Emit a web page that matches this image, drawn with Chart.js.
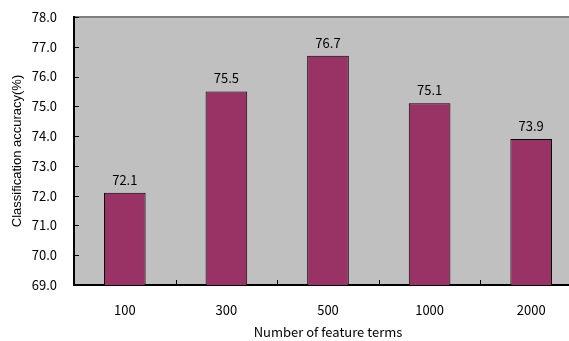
<!DOCTYPE html>
<html>
<head>
<meta charset="utf-8">
<script src="https://cdn.jsdelivr.net/npm/chart.js@4"></script>
<style>
  html, body { margin: 0; padding: 0; background: #fff; overflow: hidden; }
  #wrap { width: 582px; height: 341px; }
</style>
</head>
<body>
<div id="wrap"><canvas id="chart" width="582" height="341"></canvas></div>
<script>
// Feature-term counts and the accuracy each one reached
const categories = ['100', '300', '500', '1000', '2000'];
const accuracy = [72.1, 75.5, 76.7, 75.1, 73.9];
const yTicks = [69, 70, 71, 72, 73, 74, 75, 76, 77, 78];

const labelFamily = '"Noto Sans CJK JP", sans-serif';
const labelFont = '13px ' + labelFamily;

// Grey plot background, inward tick marks and value labels above the bars
const plotFrame = {
  id: 'plotFrame',
  beforeDraw(chart) {
    const { ctx, chartArea: a } = chart;
    ctx.save();
    ctx.fillStyle = '#C0C0C0';
    ctx.fillRect(a.left, a.top, a.right - a.left, a.bottom - a.top);
    ctx.strokeStyle = '#808080';
    ctx.lineWidth = 2;
    ctx.beginPath();
    ctx.moveTo(a.left, a.top);
    ctx.lineTo(a.right, a.top);
    ctx.stroke();
    ctx.restore();
  },
  afterDatasetsDraw(chart) {
    const { ctx, chartArea: a, scales } = chart;
    ctx.save();
    ctx.strokeStyle = '#000';
    ctx.lineWidth = 1;
    // y-axis tick marks pointing into the plot
    yTicks.forEach(v => {
      const y = Math.round(scales.y.getPixelForValue(v)) + 0.5;
      ctx.beginPath();
      ctx.moveTo(a.left, y);
      ctx.lineTo(a.left + 5, y);
      ctx.stroke();
    });
    // x-axis tick marks between categories
    for (let i = 0; i < categories.length - 1; i++) {
      const x = Math.round((scales.x.getPixelForTick(i) + scales.x.getPixelForTick(i + 1)) / 2) + 0.5;
      ctx.beginPath();
      ctx.moveTo(x, a.bottom);
      ctx.lineTo(x, a.bottom - 5);
      ctx.stroke();
    }
    // value labels
    ctx.fillStyle = '#000';
    ctx.font = labelFont;
    ctx.textAlign = 'center';
    ctx.textBaseline = 'middle';
    const meta = chart.getDatasetMeta(0);
    meta.data.forEach((bar, i) => {
      ctx.fillText(accuracy[i].toFixed(1), bar.x, bar.y - 13);
    });
    ctx.restore();
  }
};

new Chart(document.getElementById('chart'), {
  type: 'bar',
  data: {
    labels: categories,
    datasets: [{
      data: accuracy,
      backgroundColor: '#993366',
      borderColor: '#000',
      borderWidth: 1,
      borderSkipped: 'bottom',
      categoryPercentage: 1,
      barPercentage: 0.41
    }]
  },
  options: {
    responsive: false,
    animation: false,
    devicePixelRatio: 1,
    layout: { padding: { top: 17, right: 0, left: 0, bottom: 0 } },
    plugins: { legend: { display: false }, tooltip: { enabled: false } },
    scales: {
      x: {
        grid: { display: false, drawTicks: false },
        border: { display: true, color: '#000', width: 2 },
        ticks: {
          color: '#000',
          padding: 17,
          font: { family: labelFamily, size: 13 }
        },
        title: {
          display: true,
          text: 'Number of feature terms',
          color: '#000',
          padding: { top: 0, bottom: 1 },
          font: { family: labelFamily, size: 13 }
        },
        afterFit(scale) {
          scale.height = 56;
          scale.paddingLeft = 0;
          scale.paddingRight = 0;
        }
      },
      y: {
        min: 69,
        max: 78,
        grid: { display: false, drawTicks: false },
        border: { display: true, color: '#000', width: 2 },
        afterBuildTicks(scale) { scale.ticks = yTicks.map(v => ({ value: v })); },
        ticks: {
          color: '#000',
          padding: 17,
          font: { family: labelFamily, size: 13 },
          callback: v => Number(v).toFixed(1)
        },
        title: {
          display: true,
          text: 'Classification accuracy(%)',
          color: '#000',
          padding: { top: 10, bottom: 0 },
          font: { family: '"Liberation Sans", Arial, sans-serif', size: 13 }
        },
        afterFit(scale) {
          scale.width = 74;
          scale.paddingTop = 0;
          scale.paddingBottom = 0;
        }
      }
    }
  },
  plugins: [plotFrame]
});
</script>
</body>
</html>
